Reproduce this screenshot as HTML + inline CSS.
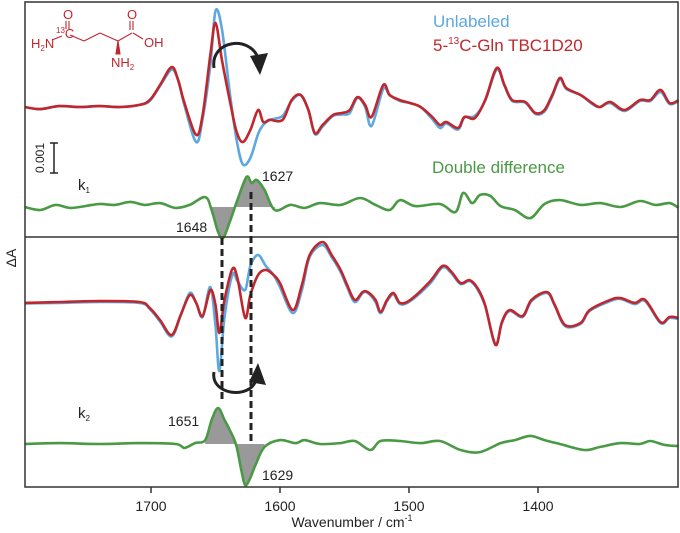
<!DOCTYPE html>
<html><head><meta charset="utf-8"><style>
body{margin:0;background:#fff;}
svg{display:block;font-family:"Liberation Sans",Arial,sans-serif;}
</style></head><body>
<svg id="chart" width="680" height="533" viewBox="0 0 680 533">
<rect x="0" y="0" width="680" height="533" fill="#fff"/>
<g id="marks"></g>
<rect x="25" y="2" width="653" height="485" fill="none" stroke="#333" stroke-width="1.5"/>
<line x1="25" y1="237" x2="678" y2="237" stroke="#333" stroke-width="1.5"/>
<g id="axis"></g>
<text x="352" y="527" font-size="14" text-anchor="middle" fill="#222">Wavenumber / cm<tspan font-size="9" dy="-6">-1</tspan></text>
<text transform="translate(16,258) rotate(-90)" font-size="14" text-anchor="middle" fill="#222">ΔA</text>
<g stroke="#222" stroke-width="1.5">
<line x1="54" y1="143" x2="54" y2="173"/><line x1="50" y1="143" x2="58" y2="143"/><line x1="50" y1="173" x2="58" y2="173"/></g>
<text transform="translate(44,158) rotate(-90)" font-size="12" text-anchor="middle" fill="#222">0.001</text>
<text x="433" y="27" font-size="17" fill="#5ea8e0">Unlabeled</text>
<text x="433" y="51" font-size="17" fill="#c0272d">5-<tspan font-size="10" dy="-7">13</tspan><tspan dy="7">C-Gln TBC1D20</tspan></text>
<text x="432" y="173" font-size="17" fill="#4a9a45">Double difference</text>
<text x="78" y="190" font-size="15" fill="#222">k<tspan font-size="8" dy="3">1</tspan></text>
<text x="78" y="418" font-size="15" fill="#222">k<tspan font-size="8" dy="3">2</tspan></text>
<text x="262" y="181" font-size="14" fill="#222">1627</text>
<text x="176" y="232" font-size="14" fill="#222">1648</text>
<text x="168" y="426" font-size="14" fill="#222">1651</text>
<text x="262" y="480" font-size="14" fill="#222">1629</text>
<g stroke="#c0272d" stroke-width="1.1" fill="none">
<line x1="52" y1="40" x2="62" y2="36"/><line x1="66" y1="29" x2="66" y2="21"/><line x1="69" y1="29" x2="69" y2="21"/>
<line x1="70" y1="35" x2="84" y2="41"/><line x1="84" y1="41" x2="100" y2="33"/><line x1="100" y1="33" x2="118" y2="41"/>
<line x1="118" y1="41" x2="132" y2="33"/><line x1="130" y1="30" x2="130" y2="21"/><line x1="133" y1="30" x2="133" y2="21"/>
<line x1="133" y1="33" x2="143" y2="39"/>
<polygon points="118,41 116,54 120,54" fill="#c0272d"/></g>
<g font-size="13" fill="#c0272d">
<text x="63" y="19">O</text><text x="127" y="19">O</text>
<text x="31" y="48">H<tspan font-size="8" dy="3">2</tspan><tspan dy="-3">N</tspan></text>
<text x="56" y="38"><tspan font-size="8" dy="-5">13</tspan><tspan dy="5">C</tspan></text>
<text x="144" y="47">OH</text>
<text x="111" y="67">NH<tspan font-size="8" dy="3">2</tspan></text></g>
<g stroke="#222" stroke-width="3" fill="none">
<path d="M214,68 C210,40 250,35 258,58"/>
<path d="M214,372 C210,395 250,400 256,380"/></g>
<polygon points="250,56 268,53 260,75" fill="#222"/>
<polygon points="249,382 258,363 266,385" fill="#222"/>
<line x1="222" y1="238" x2="222" y2="402" stroke="#222" stroke-width="3" stroke-dasharray="7,4"/>
<line x1="251" y1="192" x2="251" y2="443" stroke="#222" stroke-width="3" stroke-dasharray="7,4"/>
</svg>
<script>
// Wavenumbers (cm^-1) and values (units of 1e-4 ΔA)
const topWn   = [1798,1786,1771,1755,1740,1724,1709,1701,1693,1684,1679,1674,1665,1660,1654,1650,1645,1639,1634,1629,1623,1617,1613,1608,1598,1591,1584,1578,1573,1567,1559,1552,1546,1540,1534,1529,1520,1515,1507,1499,1491,1482,1476,1471,1462,1457,1449,1441,1432,1426,1420,1410,1402,1395,1389,1383,1378,1367,1358,1352,1344,1333,1321,1313,1305,1298,1291];
const topRed  = [0,-0.7,0.3,0,0.3,0,0.7,2.3,7.3,13.3,9,1.3,-9.3,-2.7,17.3,28,15.7,2.3,-7.7,-11.7,-7.7,-1,-5,-4.3,-4.3,2.3,4,-1,-8.7,-6,-2.7,-2,-1,3.3,0.7,-3.3,7.3,4,2.3,1.3,0,-3.3,-6,-5,-7,-3.3,-3.7,2.3,13,7.3,2.3,1.7,-2,-1,4,9.7,6.3,4,1.3,0,1.7,-1,2.3,2.3,5.7,1.3,2.3];
const topBlue = [0,-0.7,0.3,0,0.3,0,0.7,2,7,12.5,9,0.5,-11.7,-4,14,32,26,5,-10,-19,-17,-9,-6,-4.3,-3,2,4,-1,-9,-6.5,-3,-2.5,-2,3,0,-6.3,6,4,2,1.3,0,-4,-7,-5.5,-7.5,-3.5,-3,2,12.5,7,2,1.5,-2.3,-1.5,3.5,9.3,6,4,1,0,1.3,-1.3,2,2,5,1,2];
const topDDWn = [1798,1786,1774,1763,1751,1740,1728,1716,1705,1693,1681,1670,1658,1653,1648,1644,1639,1633,1626,1622,1618,1612,1604,1592,1581,1569,1553,1538,1526,1515,1507,1495,1476,1464,1458,1451,1445,1437,1429,1418,1406,1395,1383,1367,1352,1336,1321,1309,1298,1291];
const topDD   = [0,-1,0.7,-0.3,0.3,1,0.7,1.7,0.7,1.3,-0.3,0.7,3.3,-1,-8.3,-10.3,-5,2.3,10,8,9,5.7,-1,0.7,-0.3,1.3,0.7,3,0.7,-1,2.3,0.3,1,-1.7,4.7,1.3,4,3.7,0.3,-1,-3.7,1,2.3,0.7,1.3,0,2,0.7,1.3,-0.3];
const botWn   = [1798,1771,1740,1709,1701,1693,1684,1677,1670,1665,1660,1654,1650,1647,1643,1637,1633,1627,1623,1617,1611,1605,1600,1590,1583,1577,1567,1560,1553,1548,1542,1536,1532,1526,1522,1517,1512,1507,1499,1484,1474,1467,1460,1453,1447,1441,1433,1428,1422,1412,1405,1393,1387,1379,1367,1360,1344,1336,1325,1317,1305,1298,1291];
const botRed  = [-0.3,0,0.3,0,-2,-6,-11,-4.3,2.3,-0.3,-4.7,4,-1,-10.3,0.7,11,8,-5.3,2.3,9,10.7,9,6.3,-2.7,5.7,15.7,20,15.7,10.7,5.7,0.7,3.3,3.3,0.7,-3.3,0.7,3,-0.3,0.7,6.7,12,10,6.3,7.3,4.7,-1,-14.3,-6.7,-2.7,-4.7,0.7,3.3,-1,-7.7,-7,-2.7,0.7,1.3,-0.3,0.7,-6.7,-5,-5.3];
const botBlue = [-0.5,-0.3,0,-0.3,-2.3,-6.5,-11.5,-4.5,3,-0.3,-5,5,-8,-23,-5,9,7,4,12,15.7,12,9,5,-3.7,4,15,19,15,10,5,0,3,3,0,-3.7,0.3,2.5,-0.7,0.3,6,11.5,9.5,6,7,4.3,-1.3,-14,-7,-3,-5,0.3,3,-1.3,-8,-7.3,-3,0.3,1,-0.7,0.3,-7,-5.3,-5.7];
const botDDWn = [1798,1771,1740,1709,1681,1674,1666,1658,1653,1648,1643,1639,1634,1630,1627,1623,1619,1612,1600,1588,1581,1569,1553,1542,1530,1522,1507,1491,1476,1460,1445,1429,1418,1406,1395,1383,1364,1352,1336,1321,1313,1302,1291];
const botDD   = [0,0.3,0,0.3,0,-1.3,0.3,1.3,8,12,8,4.7,-0.3,-8.7,-13.7,-11.3,-7,-1,1.3,0.3,1.3,0,0.3,1,-2,1,1,0.3,1,-2,-2.7,0.3,1.3,2.7,1.3,0,-2,-1,0.3,0,1,-0.3,-0.7];
const xTicks  = [1700,1600,1500,1400];

const NS='http://www.w3.org/2000/svg';
const xScale = w => 151 + (1700 - w) * 1.29;
const yScale = (base, v) => base - v * 3;
function pathD(wn, vals, base){
  const p = wn.map((w,i)=>[xScale(w), yScale(base, vals[i])]);
  let d = 'M'+p[0][0].toFixed(1)+','+p[0][1].toFixed(1);
  for(let i=0;i<p.length-1;i++){
    const p0=p[Math.max(0,i-1)],p1=p[i],p2=p[i+1],p3=p[Math.min(p.length-1,i+2)];
    const c1=[p1[0]+(p2[0]-p0[0])/6,p1[1]+(p2[1]-p0[1])/6];
    const c2=[p2[0]-(p3[0]-p1[0])/6,p2[1]-(p3[1]-p1[1])/6];
    d+=' C'+c1[0].toFixed(1)+','+c1[1].toFixed(1)+' '+c2[0].toFixed(1)+','+c2[1].toFixed(1)+' '+p2[0].toFixed(1)+','+p2[1].toFixed(1);
  }
  return d;
}
const marks=document.getElementById('marks');
function fillArea(wn, vals, base, hi, lo, name){
  const pts=[];
  wn.forEach((w,i)=>{ if(w<=hi && w>=lo) pts.push([xScale(w), yScale(base, vals[i])]); });
  const poly=[[pts[0][0],base], ...pts, [pts[pts.length-1][0],base]];
  const el=document.createElementNS(NS,'polygon');
  el.setAttribute('points', poly.map(p=>p.join(',')).join(' '));
  el.setAttribute('fill','#999');
  
  
  marks.appendChild(el);
}
fillArea(topDDWn, topDD, 207, 1653, 1604, 'top-difference-fill');
fillArea(botDDWn, botDD, 444, 1658, 1612, 'bottom-difference-fill');
function line(wn, vals, base, color, name){
  const el=document.createElementNS(NS,'path');
  el.setAttribute('d', pathD(wn, vals, base));
  el.setAttribute('fill','none');
  el.setAttribute('stroke',color);
  el.setAttribute('stroke-width','2.6');
  el.setAttribute('stroke-linejoin','round');
  
  
  marks.appendChild(el);
}
line(topWn, topBlue, 107, '#5ea8e0', 'k1-unlabeled-line');
line(topWn, topRed, 107, '#c0272d', 'k1-labeled-line');
line(topDDWn, topDD, 207, '#4a9a45', 'k1-double-difference-line');
line(botWn, botBlue, 302, '#5ea8e0', 'k2-unlabeled-line');
line(botWn, botRed, 302, '#c0272d', 'k2-labeled-line');
line(botDDWn, botDD, 444, '#4a9a45', 'k2-double-difference-line');
const axis=document.getElementById('axis');
xTicks.forEach(t=>{
  const x=xScale(t);
  const tk=document.createElementNS(NS,'line');
  tk.setAttribute('x1',x);tk.setAttribute('x2',x);tk.setAttribute('y1',487);tk.setAttribute('y2',493);
  tk.setAttribute('stroke','#333');tk.setAttribute('stroke-width','1.5');
  
  
  axis.appendChild(tk);
  const tx=document.createElementNS(NS,'text');
  tx.setAttribute('x',x);tx.setAttribute('y',511);tx.setAttribute('text-anchor','middle');
  tx.setAttribute('font-size','14');tx.setAttribute('fill','#222');
  tx.textContent=t;
  
  
  axis.appendChild(tx);
});
</script>
</body></html>
